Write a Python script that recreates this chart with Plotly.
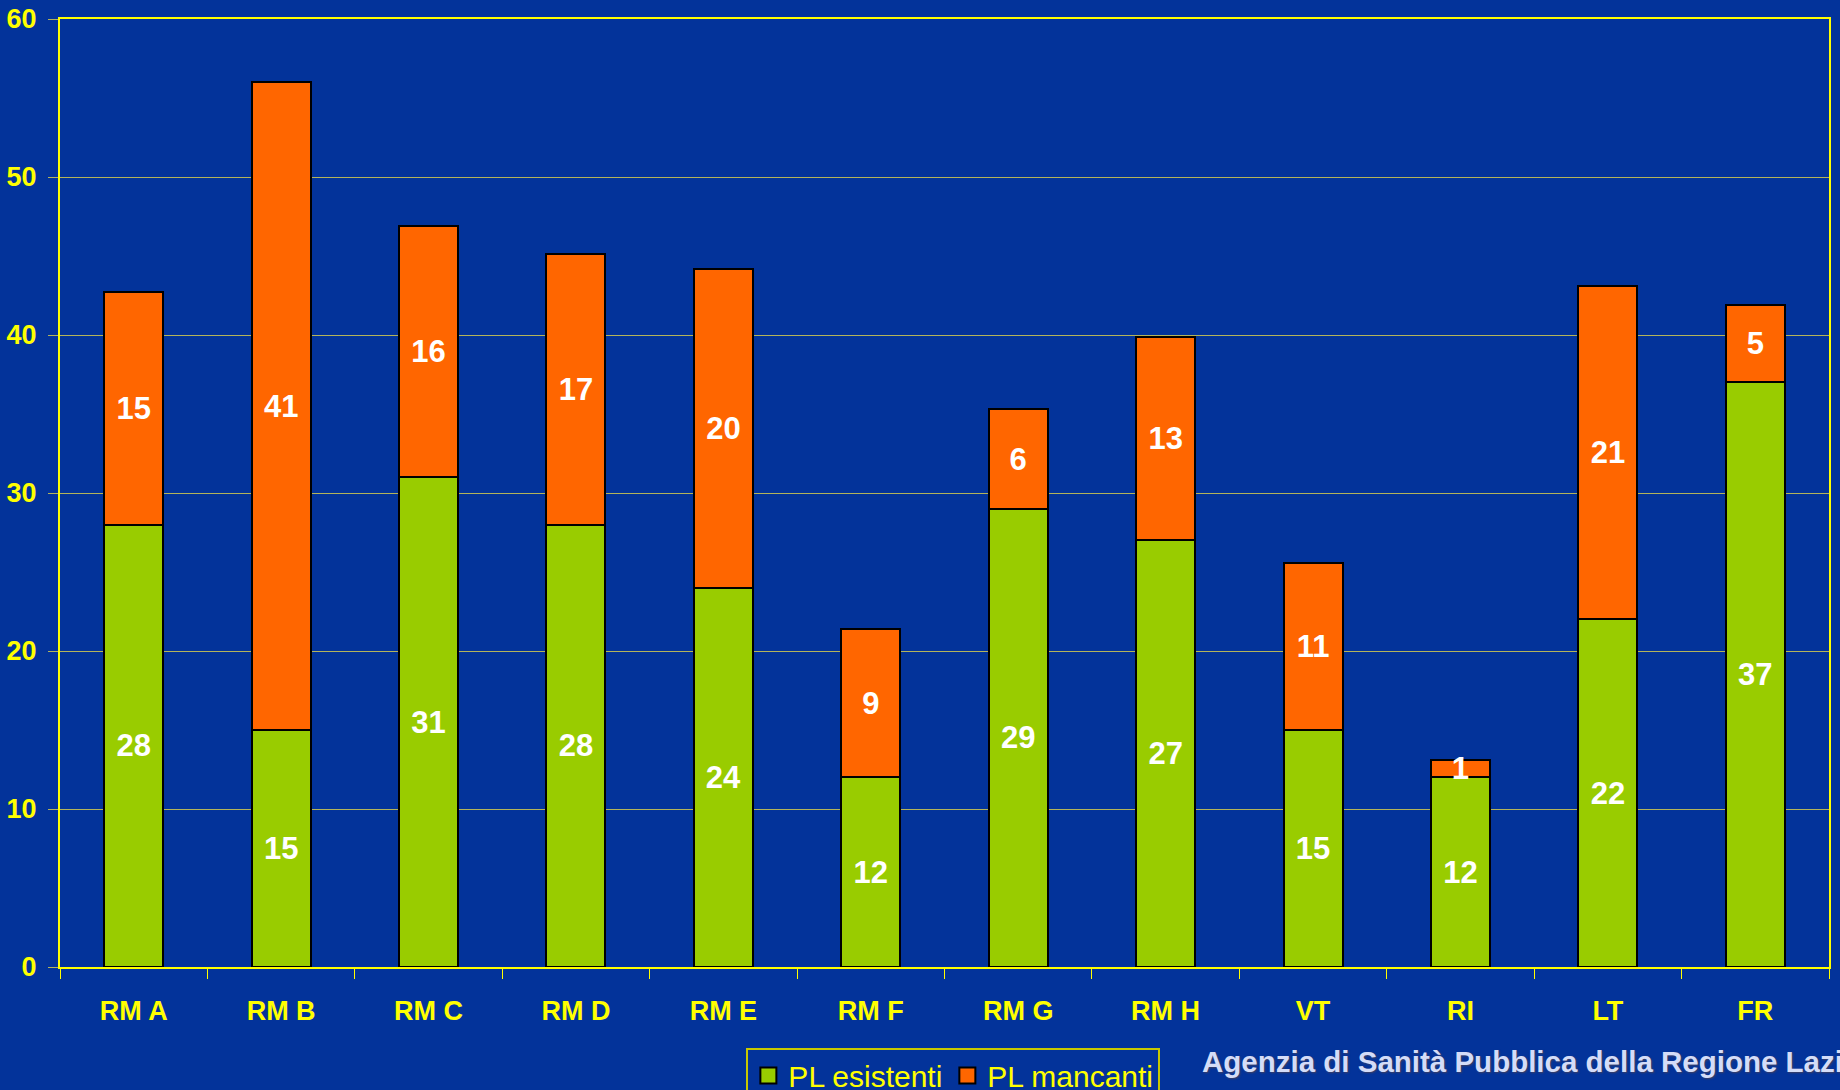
import plotly.graph_objects as go

categories = ["RM A", "RM B", "RM C", "RM D", "RM E", "RM F", "RM G", "RM H", "VT", "RI", "LT", "FR"]
pl_esistenti = [28, 15, 31, 28, 24, 12, 29, 27, 15, 12, 22, 37]
pl_mancanti = [14.7, 41.0, 15.9, 17.1, 20.2, 9.4, 6.3, 12.9, 10.6, 1.1, 21.1, 4.9]
label_esistenti = ["28", "15", "31", "28", "24", "12", "29", "27", "15", "12", "22", "37"]
label_mancanti = ["15", "41", "16", "17", "20", "9", "6", "13", "11", "1", "21", "5"]
series_names = ["PL esistenti", "PL mancanti"]
y_ticks = [0, 10, 20, 30, 40, 50, 60]

BG = "#03339A"
YELLOW = "#FFFF00"
GRID = "#B4B45A"
GREEN = "#99CC00"
ORANGE = "#FF6600"
FONT = "Liberation Sans, Arial, sans-serif"

fig = go.Figure()
for vals, labels, color, name in [(pl_esistenti, label_esistenti, GREEN, series_names[0]),
                                  (pl_mancanti, label_mancanti, ORANGE, series_names[1])]:
    fig.add_trace(go.Bar(
        x=categories, y=vals, name=name, showlegend=False,
        marker=dict(color=color, line=dict(color="#000000", width=2)),
        text=labels, textposition="inside", insidetextanchor="middle",
        textfont=dict(family=FONT, size=31, color="white", weight="bold"),
        textangle=0, constraintext="none",
    ))
# legend entries with larger square swatches
for color, name in [(GREEN, series_names[0]), (ORANGE, series_names[1])]:
    fig.add_trace(go.Scatter(
        x=[None], y=[None], mode="markers", name=name,
        marker=dict(symbol="square", size=16, color=color, line=dict(color="#000000", width=2)),
    ))

fig.update_layout(
    width=1840, height=1090,
    barmode="stack", bargap=0.6,
    paper_bgcolor=BG, plot_bgcolor=BG,
    margin=dict(l=60, r=11, t=19, b=123, autoexpand=False),
    font=dict(family=FONT, color=YELLOW),
    legend=dict(
        orientation="h", x=0.388, y=-0.085, xanchor="left", yanchor="top",
        bgcolor=BG, bordercolor="#C8C800", borderwidth=2,
        font=dict(family=FONT, size=30, color=YELLOW),
        traceorder="normal", itemwidth=30,
    ),
    showlegend=True,
)
fig.update_xaxes(
    categoryorder="array", categoryarray=categories,
    showgrid=False, showline=True, linecolor=YELLOW, linewidth=2, mirror=True,
    ticks="outside", tickson="boundaries", ticklen=10, tickcolor=YELLOW, tickwidth=1,
    tickfont=dict(family=FONT, size=27, color=YELLOW, weight="bold"),
    ticklabelstandoff=19,
)
fig.update_yaxes(
    range=[0, 60], tickvals=y_ticks, showgrid=True, gridcolor=GRID, gridwidth=1,
    showline=True, linecolor=YELLOW, linewidth=2, mirror=True,
    ticks="outside", ticklen=10, tickcolor=GRID, tickwidth=1,
    tickfont=dict(family=FONT, size=27, color=YELLOW, weight="bold"),
    ticklabelstandoff=6, zeroline=False,
)
fig.add_annotation(
    xref="paper", yref="paper", x=0.6444, y=-0.10, xanchor="left", yanchor="middle",
    text="Agenzia di Sanità Pubblica della Regione Lazio", showarrow=False,
    font=dict(family=FONT, size=29.5,
              color="#D4DCF8", weight="bold", shadow="1px 1px 2px #404060"),
)
fig.write_html("out.html", config={"displayModeBar": False},
               post_script="document.body.style.margin='0';document.body.style.background='#03339A';")
